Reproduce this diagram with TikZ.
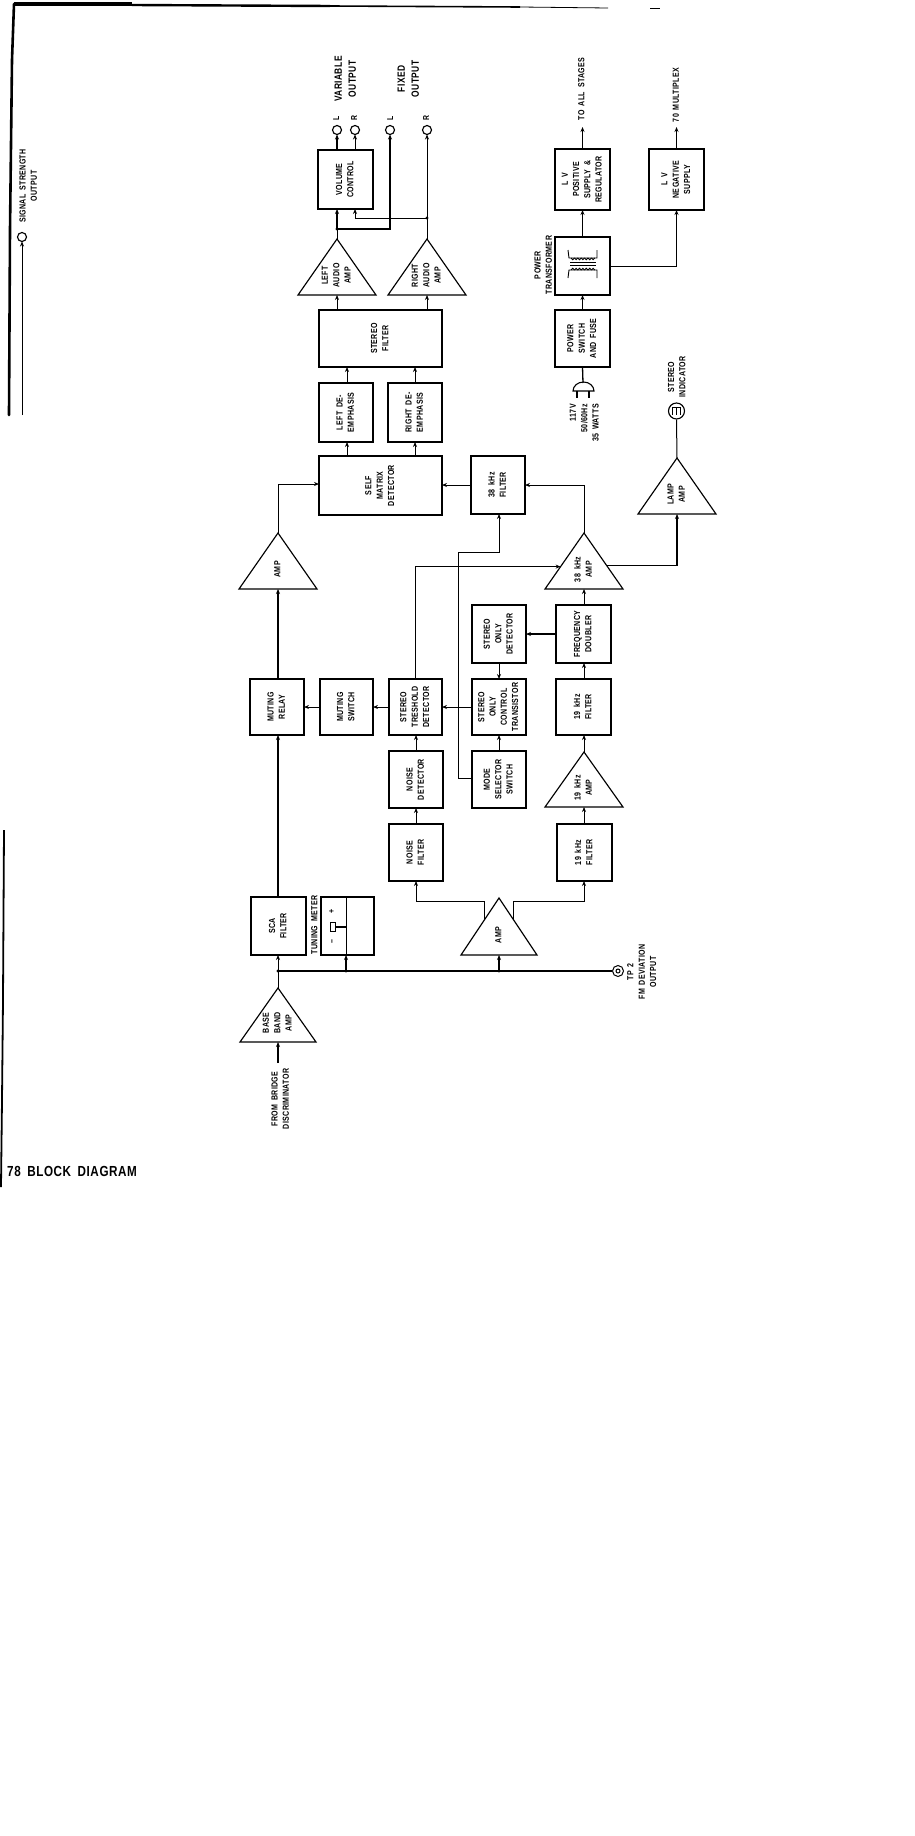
\documentclass[tikz,border=0pt]{standalone}
\usepackage{fontspec}
\setmainfont[FakeStretch=0.8,LetterSpace=4,WordSpace=1.7,UprightFont=* Bold]{Liberation Sans}
\usetikzlibrary{arrows.meta,calc}
\newcommand{\rt}[1]{\rotatebox{90}{\begin{tabular}{@{}c@{}}#1\end{tabular}}}
\newcommand{\bx}[6]{%
  \pgfmathsetmacro{\bxw}{#4-#2}\pgfmathsetmacro{\bxh}{#5-#3}%
  \pgfmathsetmacro{\bxx}{(#4+#2)/2}\pgfmathsetmacro{\bxy}{(#5+#3)/2}%
  \node[blockbox,minimum width=\bxw pt,minimum height=\bxh pt] (#1) at (\bxx,\bxy) {\rt{#6}};}
\newcommand{\ampl}[6]{% name, apex x, apex y, base y, half width, text
  \coordinate (#1a) at (#2,#3);
  \pgfmathsetmacro{\ampxl}{#2-#5}\pgfmathsetmacro{\ampxr}{#2+#5}%
  \pgfmathsetmacro{\ampty}{#3+(#4-#3)*0.65}%
  \coordinate (#1l) at (\ampxl,#4);
  \coordinate (#1r) at (\ampxr,#4);
  \coordinate (#1b) at (#2,#4);
  \draw[tribox] (#1a) -- (#1l) -- (#1r) -- cycle;
  \node[lab] (#1) at (#2,\ampty) {\rt{#6}};}
\tikzset{
  blockbox/.style={draw,line width=1.15pt,inner sep=0pt,outer sep=0pt,align=center,font=\fontsize{8.8}{11.3}\selectfont},
  tribox/.style={draw,line width=1.15pt,line join=miter},
  lab/.style={inner sep=0pt,outer sep=0pt,font=\fontsize{8.8}{11.3}\selectfont},
  biglab/.style={inner sep=0pt,outer sep=0pt,font=\fontsize{10.5}{14}\selectfont},
  wire/.style={draw,line width=1pt},
  arr/.style={wire,-{Stealth[length=5pt,width=4pt]}},
  term/.style={circle,draw,line width=1.15pt,inner sep=0pt,outer sep=0pt,minimum size=9pt},
  dot/.style={circle,fill,inner sep=0pt,minimum size=3.4pt},
}
\begin{document}
\begin{tikzpicture}[x=1pt,y=-1pt]
\useasboundingbox (0,0) rectangle (915,1836);
% page edges
\draw[line width=2.6pt,line cap=round] (14,4) -- (12,60) -- (10,230) -- (9,415);
\draw[line width=1.2pt] (14,5) -- (132,5);
\draw[line width=2pt] (14,3) -- (132,3);
\draw[line width=2.4pt] (132,5) -- (330,6);
\draw[line width=1.6pt] (330,6) -- (520,7);
\draw[line width=0.8pt] (520,7) -- (608,8);
\draw[line width=0.5pt] (650,8) -- (660,8);
\draw[line width=1.8pt] (4,830) -- (3,1000) -- (2,1100) -- (1,1187);
\node[inner sep=0pt,anchor=west,font=\fontsize{14.6}{16}\selectfont] (title) at (7,1171) {78 BLOCK DIAGRAM};
% signal strength
\node[term] (sig) at (22,237) {};
\coordinate (sigfree) at (22,415);
\draw[arr] (sigfree) -- (sig.south);
\node[lab] (sigtxt) at (29,186) {\rt{SIGNAL STRENGTH\\OUTPUT}};
% blocks
\bx{vol}{318}{150}{373}{209}{VOLUME\\CONTROL}
\bx{sf}{319}{310}{442}{367}{STEREO\\FILTER}
\bx{lde}{319}{383}{373}{442}{LEFT DE-\\EMPHASIS}
\bx{rde}{388}{383}{442}{442}{RIGHT DE-\\EMPHASIS}
\bx{self}{319}{456}{442}{515}{SELF\\MATRIX\\DETECTOR}
\bx{f38}{471}{456}{525}{514}{38 kHz\\FILTER}
\bx{relay}{250}{679}{304}{735}{MUTING\\RELAY}
\bx{msw}{320}{679}{373}{735}{MUTING\\SWITCH}
\bx{thr}{389}{679}{442}{735}{STEREO\\TRESHOLD\\DETECTOR}
\bx{ctl}{472}{679}{526}{735}{STEREO\\ONLY\\CONTROL\\TRANSISTOR}
\bx{det}{472}{605}{526}{663}{STEREO\\ONLY\\DETECTOR}
\bx{dbl}{556}{605}{611}{663}{FREQUENCY\\DOUBLER}
\bx{fa}{556}{679}{611}{735}{19 kHz\\FILTER}
\bx{mode}{472}{751}{526}{808}{MODE\\SELECTOR\\SWITCH}
\bx{ndet}{389}{751}{443}{808}{NOISE\\DETECTOR}
\bx{nfil}{389}{824}{443}{881}{NOISE\\FILTER}
\bx{fb}{557}{824}{612}{881}{19 kHz\\FILTER}
\bx{sca}{251}{897}{306}{955}{SCA\\FILTER}
\bx{pos}{555}{149}{610}{210}{L V\\POSITIVE\\SUPPLY \&\\REGULATOR}
\bx{neg}{649}{149}{704}{210}{L V\\NEGATIVE\\SUPPLY}
\bx{xf}{555}{237}{610}{295}{}
\bx{psw}{555}{310}{610}{367}{POWER\\SWITCH\\AND FUSE}
\bx{tm}{321}{897}{374}{955}{}
% triangles
\ampl{la}{337}{239}{295}{39}{LEFT\\AUDIO\\AMP}
\ampl{ra}{427}{239}{295}{39}{RIGHT\\AUDIO\\AMP}
\ampl{amp}{278}{533}{589}{39}{AMP}
\ampl{a38}{584}{533}{589}{39}{38 kHz\\AMP}
\ampl{lamp}{677}{458}{514}{39}{LAMP\\AMP}
\ampl{a19}{584}{752}{807}{39}{19 kHz\\AMP}
\ampl{lo}{499}{898}{955}{38}{AMP}
\ampl{bb}{278}{988}{1042}{38}{BASE\\BAND\\AMP}
% tuning meter details
\coordinate (tmd1) at (346,897);
\coordinate (tmd2) at (346,955);
\draw[line width=1pt] (tmd1) -- (tmd2);
\node[draw,line width=.8pt,minimum width=5pt,minimum height=9pt,inner sep=0pt] (needle) at (332.5,926.5) {};
\draw[line width=2pt] (needle.east) -- (needle.east -| tmd1);
\node[lab] (tmplus) at (332,911) {\rt{+}};
\node[lab] (tmminus) at (332,942) {\rt{--}};
\node[lab] (tmlabel) at (315,925) {\rt{TUNING METER}};
% output terminals
\node[term] (ovl) at (337,130) {};
\node[term] (ovr) at (355,130) {};
\node[term] (ofl) at (390,130) {};
\node[term] (ofr) at (427,130) {};
\node[biglab,font=\fontsize{8.6}{10}\selectfont] (tl1) at (337,118) {\rt{L}};
\node[biglab,font=\fontsize{8.6}{10}\selectfont] (tr1) at (355,118) {\rt{R}};
\node[biglab,font=\fontsize{8.6}{10}\selectfont] (tl2) at (391,118) {\rt{L}};
\node[biglab,font=\fontsize{8.6}{10}\selectfont] (tr2) at (427,118) {\rt{R}};
\node[biglab] (varout) at (346,79) {\rt{VARIABLE\\OUTPUT}};
\node[biglab] (fixout) at (409,79) {\rt{FIXED\\OUTPUT}};
% audio section connectors
\coordinate (jl) at (337,229);
\coordinate (jr) at (427,218);
\draw[arr,line width=1.3pt] (vol.north -| ovl) -- (ovl.south);
\draw[arr] (vol.north -| ovr) -- (ovr.south);
\draw[wire] (laa) -- (jl);
\draw[arr,line width=1.4pt] (jl) -- (vol.south -| jl);
\draw[arr,line width=1.3pt] (jl) -| (ofl.south);
\draw[arr] (raa) -- (ofr.south);
\draw[arr] (jr) -| (vol.south -| ovr);
\node[dot] (dl) at (jl) {};
\node[dot] (dr) at (jr) {};
\draw[arr] (sf.north -| laa) -- (lab);
\draw[arr] (sf.north -| raa) -- (rab);
\coordinate (ldx) at (347,383);
\coordinate (rdx) at (415,383);
\draw[arr] (lde.north -| ldx) -- (sf.south -| ldx);
\draw[arr] (rde.north -| rdx) -- (sf.south -| rdx);
\draw[arr] (self.north -| ldx) -- (lde.south -| ldx);
\draw[arr] (self.north -| rdx) -- (rde.south -| rdx);
% stereo decoding connectors
\coordinate (selfin) at (319,484);
\draw[arr] (ampa) |- (selfin);
\draw[arr] (f38.west) -- (self.east |- f38.west);
\draw[arr] (a38a) |- (f38.east);
\draw[arr,line width=1.3pt] (relay.north -| ampb) -- (ampb);
\draw[arr] (msw.west) -- (relay.east |- msw.west);
\draw[arr] (thr.west) -- (msw.east |- thr.west);
\draw[arr] (ctl.west) -- (thr.east |- ctl.west);
\draw[arr] (det.south) -- (ctl.north);
\draw[arr] (mode.north) -- (ctl.south);
\draw[arr,line width=1.4pt] (dbl.west) -- (det.east |- dbl.west);
\draw[arr] (dbl.north -| a38b) -- (a38b);
\draw[arr] (fa.north -| a38b) -- (dbl.south -| a38b);
\draw[arr] (a19a) -- (fa.south -| a19a);
\draw[arr] (fb.north -| a19b) -- (a19b);
\coordinate (thrtop) at (415,679);
\coordinate (a38in) at ($(a38a)!.6!(a38l)$);
\draw[arr] (thrtop) |- (a38in);
\coordinate (modeout) at (472,778);
\coordinate (modev) at (458,552);
\coordinate (f38in) at (499,514);
\draw[arr] (modeout) -- (modeout -| modev) -- (modev) -| (f38in);
\coordinate (a38out) at ($(a38a)!.58!(a38r)$);
\draw[arr,line width=1.3pt] (a38out) -| (lampb);
\node[circle,draw,line width=1.15pt,inner sep=0pt,minimum size=16pt] (ind) at (676.5,411) {};
\draw[wire] (ind.south) -- (lampa);
\node[lab] (indt) at (677.5,377) {\rt{STEREO\\INDICATOR}};
\draw[line width=1pt] (ind.center)+(-4.5,-3.5) -- +(4.5,-3.5) (ind.center)+(-4,-3.5) -- +(-4,3.5) (ind.center)+(0,-3.5) -- +(0,3.5) (ind.center)+(4,-3.5) -- +(4,3.5);
% noise & front connectors
\coordinate (thrin) at (416,751);
\draw[arr] (ndet.north -| thrin) -- (thr.south -| thrin);
\draw[arr] (nfil.north -| thrin) -- (ndet.south -| thrin);
\coordinate (losl) at ($(loa)!.37!(lol)$);
\coordinate (losr) at ($(loa)!.37!(lor)$);
\coordinate (lotop) at (0,901);
\draw[arr] (losl) -- (losl |- lotop) -| (nfil.south -| thrin);
\draw[arr] (losr) -- (losr |- lotop) -| (fb.south -| a19a);
\draw[arr,line width=1.3pt] (sca.north -| ampb) -- (relay.south -| ampb);
\coordinate (bus) at (278,971);
\node[circle,draw,line width=1pt,inner sep=0pt,minimum size=11pt] (tp) at (618,971) {};
\node[circle,draw,line width=1pt,inner sep=0pt,minimum size=4pt] (tpi) at (tp.center) {};
\draw[wire,line width=1.2pt] (bus) -- (tp.west);
\draw[wire] (bba) -- (bus);
\draw[arr] (bus) -- (sca.south -| bus);
\coordinate (tmbus) at (346,971);
\coordinate (lobus) at (499,971);
\draw[arr,line width=1.2pt] (tmbus) -- (tmd2);
\draw[arr,line width=1.2pt] (lobus) -- (lob);
\node[dot] (db1) at (bus) {};
\node[dot] (db2) at (tmbus) {};
\node[dot] (db3) at (lobus) {};
\coordinate (bbin) at (278,1063);
\draw[arr,line width=1.3pt] (bbin) -- (bbb);
\node[lab] (frm) at (281,1099) {\rt{FROM BRIDGE\\DISCRIMINATOR}};
\node[lab] (tptxt) at (642.5,972) {\rt{TP 2\\FM DEVIATION\\OUTPUT}};
% power section connectors
\draw[arr] (pos.north) -- ++(0,-22) coordinate (posout);
\draw[arr] (neg.north) -- ++(0,-22) coordinate (negout);
\node[lab] (allst) at (582,89) {\rt{TO ALL STAGES}};
\node[lab] (mpx) at (676.5,95) {\rt{70 MULTIPLEX}};
\draw[arr] (xf.north) -- (pos.south);
\draw[arr] (psw.north) -- (xf.south);
\draw[wire] (xf.east) -| ($(neg.south)+(0,8)$) coordinate (negin);
\draw[arr] (negin) -- (neg.south);
\node[lab] (xflab) at (544,265) {\rt{POWER\\TRANSFORMER}};
% transformer symbol
\draw[line width=.9pt] (568,250) -- (569,258) -- (597,258) -- (597,250);
\foreach \i in {0,...,6} {\draw[line width=.9pt] ({571+3.4*\i},258) arc[start angle=180,end angle=0,radius=1.7];}
\draw[line width=.9pt] (570,262.5) -- (596,262.5) (570,265) -- (596,265);
\draw[line width=.9pt] (568,278) -- (569,270) -- (597,270) -- (597,278);
\foreach \i in {0,...,6} {\draw[line width=.9pt] ({571+3.4*\i},270) arc[start angle=180,end angle=360,radius=1.7];}
% plug
\coordinate (plugtop) at (583,383);
\draw[line width=1.3pt] (psw.south) -- (plugtop);
\draw[line width=1.1pt] (573,391) arc[start angle=180,end angle=360,x radius=10.5,y radius=9] -- cycle;
\draw[line width=1.1pt] (577,391) -- (577,398) (589,391) -- (589,398);
\node[lab] (mains) at (585,423) {\rotatebox{90}{\begin{tabular}{@{}r@{}}117V\\50/60Hz\\35 WATTS\end{tabular}}};
\end{tikzpicture}
\end{document}
